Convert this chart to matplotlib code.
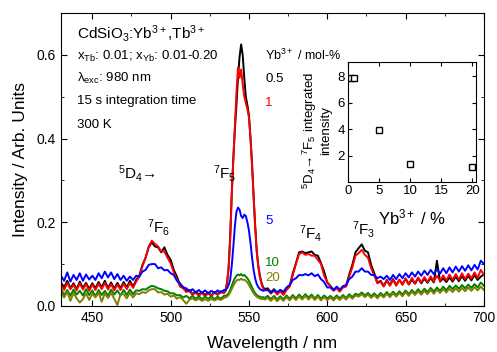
import matplotlib
matplotlib.use("Agg")
import matplotlib.pyplot as plt
import numpy as np
from matplotlib.ticker import MultipleLocator, FormatStrFormatter

plt.rcParams['font.family'] = ['Liberation Sans', 'DejaVu Sans']
plt.rcParams['mathtext.fontset'] = 'custom'
plt.rcParams['mathtext.rm'] = 'Liberation Sans'
plt.rcParams['mathtext.it'] = 'Liberation Sans:italic'
plt.rcParams['mathtext.default'] = 'regular'

# wavelength grid (nm), finer around the 7F5 peak
wl = list(range(430, 535, 2)) + list(range(535, 561)) + list(range(562, 701, 2))

# intensities, in units of 1e-3 arb. units
yb_05 = [
    56, 44, 60, 42, 54, 40, 58, 43, 55, 41,
    54, 42, 57, 44, 60, 43, 56, 41, 55, 42,
    57, 44, 60, 46, 62, 72, 98, 115, 140, 152,
    142, 140, 128, 140, 122, 110, 86, 70, 50, 45,
    36, 38, 28, 34, 27, 33, 26, 32, 25, 33,
    28, 35, 32,
    35, 55, 90, 165, 270, 350, 420, 480, 545, 595,
    625, 600, 545, 500, 480, 455, 400, 340, 260, 190,
    130, 95, 72, 55, 45, 40,
    42, 32, 40, 30, 38, 29, 40, 48, 78, 102,
    128, 130, 126, 128, 130, 122, 120, 102, 82, 56,
    48, 38, 44, 36, 46, 48, 75, 98, 128, 138,
    147, 132, 128, 98, 78, 55, 60, 48, 62, 50,
    64, 50, 62, 52, 65, 51, 63, 53, 66, 54,
    65, 55, 67, 56, 108, 58, 66, 57, 68, 58,
    70, 59, 71, 60, 72, 61, 74, 62, 70, 75]

yb_1 = [
    52, 38, 55, 40, 50, 37, 54, 39, 52, 36,
    51, 38, 53, 40, 55, 39, 52, 37, 51, 38,
    53, 40, 55, 43, 58, 70, 95, 115, 142, 156,
    148, 142, 130, 130, 115, 102, 80, 64, 46, 42,
    33, 36, 26, 32, 24, 31, 23, 30, 24, 32,
    26, 33, 30,
    38, 55, 90, 155, 260, 350, 430, 510, 570, 545,
    565, 530, 500, 485, 470, 450, 400, 330, 255, 185,
    128, 92, 68, 52, 42, 38,
    39, 29, 37, 27, 35, 26, 38, 46, 74, 100,
    124, 128, 122, 124, 120, 120, 110, 100, 72, 56,
    46, 36, 42, 34, 44, 46, 70, 92, 120, 126,
    134, 122, 115, 90, 72, 54, 58, 46, 60, 48,
    62, 48, 63, 50, 66, 52, 67, 54, 68, 56,
    69, 57, 71, 58, 72, 60, 73, 61, 75, 62,
    76, 63, 78, 64, 77, 66, 80, 67, 86, 74]

yb_5 = [
    72, 60, 80, 58, 74, 62, 78, 60, 75, 63,
    72, 62, 78, 66, 82, 68, 80, 64, 76, 62,
    72, 60, 70, 62, 72, 70, 82, 86, 98, 100,
    100, 90, 92, 85, 86, 78, 74, 60, 54, 44,
    42, 35, 40, 32, 38, 31, 37, 30, 36, 31,
    37, 32, 38,
    38, 42, 50, 62, 95, 140, 190, 225, 235, 230,
    215, 210, 218, 215, 200, 180, 150, 115, 85, 65,
    52, 45, 40, 38, 36, 37,
    38, 32, 37, 33, 38, 34, 44, 50, 62, 66,
    74, 73, 76, 73, 78, 71, 75, 64, 57, 44,
    44, 38, 46, 39, 47, 50, 64, 70, 82, 82,
    90, 82, 82, 74, 74, 66, 70, 64, 72, 62,
    74, 64, 76, 66, 78, 68, 80, 70, 82, 72,
    84, 74, 86, 76, 88, 77, 90, 78, 92, 80,
    94, 82, 95, 84, 97, 85, 98, 87, 108, 100]

yb_10 = [
    40, 26, 38, 24, 39, 27, 36, 25, 40, 26,
    37, 23, 38, 26, 36, 24, 39, 27, 37, 25,
    38, 26, 39, 28, 37, 36, 40, 39, 44, 48,
    46, 42, 40, 36, 35, 30, 30, 25, 26, 20,
    24, 18, 24, 17, 23, 16, 22, 17, 23, 16,
    22, 17, 24,
    24, 26, 30, 38, 48, 58, 66, 72, 75, 73,
    76, 72, 74, 70, 66, 60, 52, 44, 36, 30,
    26, 23, 22, 20, 21, 19,
    24, 16, 24, 15, 23, 16, 25, 17, 26, 18,
    27, 19, 28, 20, 27, 18, 26, 17, 25, 18,
    24, 17, 25, 18, 26, 19, 28, 21, 29, 26,
    32, 25, 31, 23, 30, 22, 31, 24, 33, 25,
    34, 26, 35, 27, 37, 28, 38, 30, 40, 31,
    41, 33, 43, 34, 44, 36, 46, 37, 48, 40,
    49, 41, 50, 42, 51, 43, 52, 44, 56, 48]

yb_20 = [
    32, 20, 34, 12, 31, 18, 8, 16, 30, 14,
    29, 20, 32, 10, 30, 19, 31, 17, 2, 28,
    28, 18, 31, 20, 30, 28, 33, 31, 37, 40,
    40, 32, 33, 27, 29, 22, 25, 17, 21, 14,
    5, 15, 18, 13, 17, 12, 16, 12, 17, 13,
    17, 14, 19,
    20, 22, 26, 32, 40, 48, 55, 60, 63, 62,
    65, 62, 63, 60, 56, 50, 43, 36, 30, 25,
    22, 19, 18, 16, 17, 15,
    19, 12, 20, 11, 19, 12, 21, 13, 22, 14,
    23, 15, 24, 15, 23, 14, 22, 13, 21, 14,
    20, 13, 21, 14, 22, 15, 24, 17, 25, 22,
    28, 21, 27, 19, 26, 18, 27, 20, 29, 21,
    30, 22, 31, 23, 33, 24, 34, 26, 35, 27,
    36, 28, 38, 29, 39, 31, 40, 32, 41, 33,
    42, 34, 43, 35, 44, 36, 45, 37, 46, 38]

series = [yb_05, yb_1, yb_5, yb_10, yb_20]
conc_labels = ['0.5', '1', '5', '10', '20']
colors = ['#000000', '#ff0000', '#0000ff', '#008000', '#808000']

# inset: integrated 5D4->7F5 intensity vs Yb content
inset_yb = [0.5, 1, 5, 10, 20]
inset_int = [7.9, 7.9, 3.95, 1.35, 1.12]

fig = plt.figure(figsize=(4.97, 3.52), dpi=100)
ax = fig.add_axes([0.1227, 0.131, 0.851, 0.832])

wl = np.array(wl)
for vals, c in zip(series, colors):
    ax.plot(wl, np.array(vals) / 1000.0, color=c, lw=1.4)

ax.set_xlim(430, 700)
ax.set_ylim(0, 0.7)
ax.xaxis.set_major_locator(MultipleLocator(50))
ax.xaxis.set_minor_locator(MultipleLocator(25))
ax.yaxis.set_major_locator(MultipleLocator(0.2))
ax.yaxis.set_minor_locator(MultipleLocator(0.1))
ax.yaxis.set_major_formatter(FormatStrFormatter('%.1f'))
ax.tick_params(which='both', direction='in', top=True, right=True, labelsize=10)
ax.tick_params(which='major', length=4)
ax.tick_params(which='minor', length=2)
for s in ax.spines.values():
    s.set_linewidth(0.8)
ax.set_xlabel('Wavelength / nm', fontsize=12.5, labelpad=8)
ax.set_ylabel('Intensity / Arb. Units', fontsize=12.5, labelpad=6)

# sample description
ax.text(440.2, 0.638, 'CdSiO$_3$:Yb$^{3+}$,Tb$^{3+}$', fontsize=11, va='baseline')
ax.text(440.2, 0.588, 'x$_{Tb}$: 0.01; x$_{Yb}$: 0.01-0.20', fontsize=9.5, va='baseline')
ax.text(440.2, 0.535, 'λ$_{exc}$: 980 nm', fontsize=9.5, va='baseline')
ax.text(440.2, 0.483, '15 s integration time', fontsize=9.5, va='baseline')
ax.text(440.2, 0.425, '300 K', fontsize=9.5, va='baseline')

# transitions
ax.text(466.5, 0.305, '$^5$D$_4$→', fontsize=11, va='baseline')
ax.text(527.3, 0.305, '$^7$F$_5$', fontsize=11, va='baseline')
ax.text(485.0, 0.176, '$^7$F$_6$', fontsize=11, va='baseline')
ax.text(581.8, 0.162, '$^7$F$_4$', fontsize=11, va='baseline')
ax.text(616.0, 0.170, '$^7$F$_3$', fontsize=11, va='baseline')

# concentration labels
ax.text(560.5, 0.588, 'Yb$^{3+}$ / mol-%', fontsize=9, va='baseline')
label_y = [0.536, 0.478, 0.196, 0.096, 0.060]
for lab, c, y in zip(conc_labels, colors, label_y):
    ax.text(560.5, y, lab, fontsize=9.5, color=c, va='baseline')

# inset
axi = fig.add_axes([0.700, 0.483, 0.258, 0.341])
axi.plot(inset_yb, inset_int, ls='none', marker='s', ms=5, mfc='white',
         mec='black', mew=1.0)
axi.set_xlim(0, 20.6)
axi.set_ylim(0, 9.1)
axi.set_xticks([0, 5, 10, 15, 20])
axi.set_yticks([2, 4, 6, 8])
axi.tick_params(direction='in', top=True, right=True, length=3, labelsize=9.5, pad=2)
for s in axi.spines.values():
    s.set_linewidth(0.8)
axi.set_xlabel('Yb$^{3+}$ / %', fontsize=12, labelpad=8)
axi.text(-0.245, 0.43, '$^5$D$_4$→$^7$F$_5$ integrated\nintensity', transform=axi.transAxes,
         rotation=90, ha='center', va='center', multialignment='center', fontsize=9.5)

fig.savefig('out.png', dpi=100)
